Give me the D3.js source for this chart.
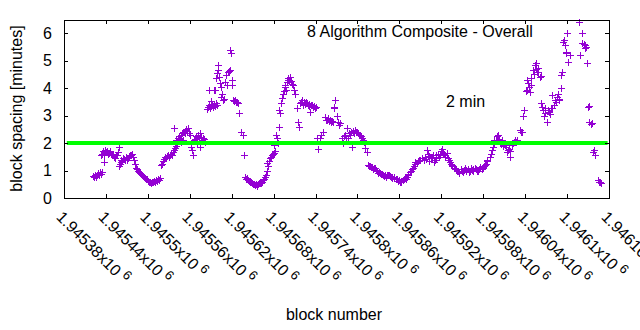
<!DOCTYPE html>
<html>
  <head>
    <meta charset="utf-8" />
    <script src="https://d3js.org/d3.v7.min.js"></script>
    <style>
      body { margin: 0; background: #fff; }
      text { font-family: "Liberation Sans", Arial, sans-serif; fill: #000; }
    </style>
  </head>
  <body>
    <svg width="640" height="330" id="chart"></svg>
    <script>
      // block spacing readings [block number, minutes], grouped by stretch of the curve
      const firstRise = [
        [1945421,0.80],[1945423,0.78],[1945424,0.85],[1945426,0.76],[1945427,0.82],[1945429,0.90],[1945430,0.84],[1945431,0.93],[1945433,0.88],[1945434,0.95],
        [1945433,1.55],[1945434,1.62],[1945436,1.70],[1945437,1.58],[1945439,1.75],[1945440,1.68],[1945441,1.72],[1945443,1.60],[1945444,1.65],[1945446,1.70],
        [1945447,1.62],[1945449,1.55],[1945450,1.60],[1945452,1.50],[1945453,1.45],[1945454,1.55],[1945456,1.58],[1945457,1.68],[1945459,1.85],[1945437,1.30],
        [1945458,1.18],[1945460,1.25],[1945461,1.32],[1945462,1.40],[1945463,1.36],[1945464,1.45],[1945466,1.42],[1945467,1.38],[1945469,1.48],[1945470,1.40],
        [1945472,1.45],[1945473,1.52],[1945474,1.58],[1945476,1.55],[1945477,1.62],[1945479,1.50]
      ];
      const firstDip = [
        [1945480,1.38],[1945482,1.25],[1945483,1.10],[1945484,1.05],[1945486,1.00],[1945487,0.95],[1945489,0.90],[1945490,0.88],[1945492,0.85],[1945493,0.80],
        [1945494,0.78],[1945496,0.74],[1945497,0.70],[1945499,0.68],[1945500,0.62],[1945502,0.60],[1945503,0.58],[1945504,0.55],[1945506,0.60],[1945507,0.57],
        [1945509,0.62],[1945510,0.58],[1945512,0.65],[1945513,0.62],[1945514,0.70],[1945516,0.66],[1945517,0.72],
        [1945519,1.20],[1945520,1.25],[1945522,1.35],[1945523,1.42],[1945524,1.48],[1945526,1.45],[1945527,1.52],[1945529,1.55],[1945530,1.48],[1945532,1.58],
        [1945533,1.62],[1945534,1.55],[1945536,1.68],[1945537,1.75],[1945539,1.82],[1945540,1.88],[1945542,1.95]
      ];
      const firstPeak = [
        [1945538,2.55],[1945541,2.12],[1945543,2.18],[1945544,2.15],[1945545,2.25],[1945546,2.20],[1945547,2.30],[1945549,2.35],[1945550,2.40],[1945552,2.42],
        [1945553,2.38],[1945554,2.50],[1945556,2.45],[1945557,2.55],[1945559,2.35],[1945560,2.30],[1945548,2.05],[1945551,2.10],[1945562,1.85],[1945563,1.75],
        [1945565,1.58],[1945566,2.10],[1945567,2.15],[1945569,2.25],[1945570,2.20],[1945572,2.30],[1945573,2.18],[1945575,2.35],[1945576,2.22],[1945577,2.12],
        [1945579,2.20],[1945580,2.15],[1945582,2.05],[1945571,1.95],[1945574,1.85],
        [1945585,3.25],[1945586,3.32],[1945587,3.40],[1945589,3.28],[1945590,3.35],[1945592,3.42],[1945593,3.30],[1945595,3.38],[1945596,3.36],[1945597,3.45],
        [1945599,3.40],[1945588,3.95],[1945591,3.55],[1945594,3.92],
        [1945596,3.93],[1945598,4.36],[1945599,4.55],[1945600,4.84],[1945601,4.65],[1945602,4.40],[1945603,4.20],[1945605,4.05],[1945606,3.80],[1945604,3.67],
        [1945607,3.56],[1945609,3.62],[1945610,4.22],[1945612,4.47],[1945613,4.10],[1945615,4.58],[1945616,4.62],[1945617,4.65],[1945618,5.38],[1945619,5.27],
        [1945620,4.30],[1945621,4.10],[1945622,3.56],[1945623,3.52],[1945625,3.58],[1945626,3.48],[1945627,3.50],[1945629,3.45],[1945630,3.09],[1945633,2.40],
        [1945636,2.29],[1945637,1.56]
      ];
      const secondDip = [
        [1945639,0.75],[1945640,0.70],[1945642,0.72],[1945643,0.65],[1945645,0.62],[1945646,0.60],[1945647,0.58],[1945649,0.55],[1945650,0.52],[1945652,0.50],
        [1945653,0.48],[1945655,0.50],[1945656,0.45],[1945657,0.52],[1945659,0.55],[1945660,0.58],[1945662,0.55],[1945663,0.60],[1945665,0.65],[1945666,0.70],
        [1945667,0.75],[1945669,0.85],[1945670,1.00],[1945672,1.15],[1945671,1.27],[1945673,1.35],[1945675,1.45],[1945676,1.50],[1945678,1.58],[1945679,1.62],
        [1945680,1.65],[1945682,1.70],[1945681,1.93],[1945683,2.29],[1945685,2.18],[1945686,2.00],[1945687,2.58],[1945688,3.20],[1945689,3.10]
      ];
      const secondPeak = [
        [1945690,3.45],[1945692,3.64],[1945693,3.80],[1945695,3.90],[1945696,4.04],[1945697,4.10],[1945698,3.95],[1945699,4.22],[1945700,4.36],[1945701,4.30],
        [1945702,4.30],[1945703,4.40],[1945705,4.25],[1945706,4.15],[1945708,4.10],[1945709,3.95],[1945710,3.80],
        [1945713,3.27],[1945715,2.76],[1945716,2.58],[1945718,3.45],[1945719,3.50],[1945720,3.56],[1945722,3.40],[1945723,3.48],[1945725,3.42],[1945726,3.50],
        [1945728,3.45],[1945729,3.38],[1945730,3.42],[1945732,3.13],[1945731,3.35],[1945733,3.40],[1945735,3.38],[1945736,3.30],[1945738,3.35],[1945739,3.28],
        [1945740,3.31],[1945742,2.20],[1945743,1.80],[1945746,2.18],[1945748,2.30],[1945750,2.40],[1945753,2.95],[1945755,2.85],[1945756,2.84],[1945758,2.90],
        [1945759,2.80],[1945760,2.84],[1945762,2.78],[1945763,2.82],[1945765,2.76],[1945766,3.27],[1945768,3.56],[1945767,3.31],[1945770,3.00],[1945772,2.76],
        [1945773,2.65],[1945775,2.73],[1945778,2.18],[1945779,2.00],[1945781,2.25],[1945782,2.30],[1945783,2.20],[1945785,2.55],[1945786,2.20],[1945788,2.35],
        [1945789,2.29],[1945791,2.40],[1945792,1.85],[1945793,2.45],[1945795,2.35],[1945796,2.47],[1945798,2.42],[1945799,2.40],[1945801,2.35],[1945802,2.30],
        [1945803,2.29],[1945805,2.25],[1945806,2.18],[1945808,2.10],[1945809,2.05],[1945811,1.82],[1945813,1.67]
      ];
      const thirdDip = [
        [1945815,1.20],[1945816,1.18],[1945818,1.15],[1945819,1.12],[1945821,1.13],[1945822,1.05],[1945823,1.10],[1945825,1.09],[1945826,1.02],[1945828,1.00],
        [1945829,0.91],[1945831,0.95],[1945832,0.90],[1945833,0.88],[1945835,0.86],[1945836,0.84],[1945838,0.80],[1945839,0.85],[1945841,0.78],[1945842,0.82],
        [1945843,0.84],[1945845,0.82],[1945846,0.80],[1945848,0.76],[1945849,0.78],[1945850,0.72],[1945852,0.75],[1945853,0.72],[1945855,0.70],[1945856,0.68],
        [1945858,0.62],[1945859,0.65],[1945861,0.60],[1945862,0.62],[1945863,0.58],[1945865,0.65],[1945866,0.68],[1945868,0.72],[1945869,0.70],[1945871,0.78],
        [1945872,0.82],[1945873,0.88],[1945875,0.95],[1945876,0.98],[1945878,1.05],[1945879,1.10],[1945881,1.15],[1945882,1.25],[1945883,1.30],[1945885,1.28],
        [1945886,1.35],[1945888,1.40],[1945889,1.38]
      ];
      const thirdBump = [
        [1945893,1.45],[1945895,1.38],[1945896,1.50],[1945898,1.42],[1945899,1.75],[1945901,1.60],[1945902,1.35],[1945903,1.52],[1945905,1.45],[1945906,1.48],
        [1945908,1.55],[1945909,1.30],[1945911,1.40],[1945912,1.58],[1945913,1.45],[1945915,1.62],[1945916,1.48],[1945918,1.55],[1945919,1.70],[1945921,1.80],
        [1945922,1.65],[1945924,1.60],[1945925,1.50],[1945926,1.55],[1945928,1.65],[1945929,1.45],[1945931,1.40],[1945932,1.30],[1945934,1.25],
        [1945935,1.20],[1945936,1.15],[1945938,1.10],[1945939,1.08],[1945941,1.05],[1945942,1.00],[1945944,0.98],[1945945,0.92],[1945946,0.95],[1945948,1.05],
        [1945949,1.00],[1945951,0.95],[1945952,1.02],[1945954,1.08],[1945955,0.98],[1945956,1.02],[1945958,1.05],[1945959,0.95],[1945961,1.00],[1945962,1.08],
        [1945964,1.02],[1945965,1.05],[1945966,0.98],[1945968,1.10],[1945969,1.05],[1945971,0.98],[1945972,1.00],[1945974,1.05],[1945975,1.08],[1945976,1.12],
        [1945978,1.05],[1945979,1.10],[1945981,1.15],[1945982,1.20],[1945984,1.25],[1945985,1.35],[1945986,1.40],[1945989,1.50],[1945991,1.60],[1945992,1.75],
        [1945994,1.85],[1945995,2.00],[1945998,2.10],[1945999,2.25]
      ];
      const finalRise = [
        [1945996,2.10],[1946001,2.29],[1946002,2.15],[1946004,2.05],[1946005,1.95],[1946007,2.10],[1946008,2.00],[1946009,1.90],[1946011,1.93],[1946012,1.85],
        [1946014,1.67],[1946015,1.75],[1946017,1.80],[1946018,1.50],[1946019,1.70],[1946021,1.93],[1946022,2.00],[1946024,2.05],[1946025,2.10],[1946027,2.05],
        [1946028,2.12],[1946029,2.10],[1946032,2.47],[1946034,2.40],[1946035,2.42],
        [1946037,3.00],[1946039,3.20],[1946041,3.90],[1946042,4.30],[1946044,4.18],[1946043,3.93],[1946045,4.05],[1946047,3.86],[1946048,4.10],[1946049,4.36],
        [1946051,4.65],[1946052,4.50],[1946054,4.84],[1946055,4.70],[1946057,4.58],[1946058,4.73],[1946059,4.60],[1946061,4.40],[1946062,4.45],[1946056,4.90],
        [1946063,3.45],[1946064,3.31],[1946065,3.20],[1946067,3.00],[1946068,3.27],[1946069,3.10],[1946071,2.76],[1946072,3.20],[1946074,3.13],[1946075,3.05],
        [1946077,3.27],[1946078,3.75],[1946079,3.27],[1946081,3.40],[1946082,3.56],[1946084,3.50],[1946085,3.67],[1946087,3.80],[1946088,3.60],[1946089,3.56],
        [1946091,4.00],[1946092,4.47],[1946093,4.58],
        [1946094,5.67],[1946096,5.75],[1946097,5.56],[1946098,5.31],[1946099,5.27],[1946100,6.00],[1946101,4.95],[1946104,5.20],[1946117,6.40],[1946118,5.20],
        [1946121,6.00],[1946122,5.64],[1946124,5.60],[1946125,5.56],[1946126,5.45],[1946127,5.50],[1946128,4.90],
        [1946130,3.31],[1946131,3.35],[1946132,2.76],[1946134,2.70],[1946135,2.73],[1946137,1.67],[1946138,1.75],[1946140,1.56],[1946144,0.65],[1946145,0.60],
        [1946147,0.58],[1946148,0.55]
      ];

      const targetMinutes = 2;
      const targetFrom = 1945384;
      const targetTo = 1946158;

      const xTicks = [1945380, 1945440, 1945500, 1945560, 1945620, 1945680, 1945740,
                      1945800, 1945860, 1945920, 1945980, 1946040, 1946100, 1946160];
      const yTicks = [0, 1, 2, 3, 4, 5, 6];

      const titleText = "8 Algorithm Composite - Overall";
      const noteText = "2 min";
      const xLabel = "block number";
      const yLabel = "block spacing [minutes]";

      const points = [].concat(firstRise, firstDip, firstPeak, secondDip,
                               secondPeak, thirdDip, thirdBump, finalRise);

      const svg = d3.select("svg#chart");
      const plotLeft = 64, plotRight = 609, plotTop = 19.5, plotBottom = 198;

      const xScale = d3.scaleLinear().domain([1945380, 1946160]).range([plotLeft, plotRight]);
      const yScale = d3.scaleLinear().domain([0, 6.5]).range([plotBottom, plotTop]);

      const fmtBlock = (v) => Number((v / 1e6).toFixed(5)).toString() + "x10";

      // points (gnuplot style "+")
      const s = 3.5;
      svg.append("g")
        .attr("stroke", "#9400d3")
        .attr("stroke-width", 1)
        .attr("fill", "none")
        .attr("shape-rendering", "crispEdges")
        .selectAll("path")
        .data(points)
        .join("path")
        .attr("d", (d) => {
          const cx = Math.round(xScale(d[0])) + 0.5;
          const cy = Math.round(yScale(d[1])) + 0.5;
          return `M${cx - s},${cy}H${cx + s}M${cx},${cy - s}V${cy + s}`;
        });

      // 2 minute target line
      svg.append("line")
        .attr("x1", xScale(targetFrom))
        .attr("x2", xScale(targetTo))
        .attr("y1", yScale(targetMinutes))
        .attr("y2", yScale(targetMinutes))
        .attr("stroke", "#00ff00")
        .attr("stroke-width", 4);

      // axes, ticks pointing inwards on all sides
      const axisBottom = d3.axisBottom(xScale).tickValues(xTicks)
        .tickSizeInner(-4).tickSizeOuter(0).tickFormat(fmtBlock);
      const gx = svg.append("g")
        .attr("transform", `translate(0, ${plotBottom})`)
        .call(axisBottom);
      gx.selectAll("text")
        .attr("x", 0).attr("y", 0).attr("dy", null)
        .attr("text-anchor", "start")
        .attr("transform", "translate(-9, 20) rotate(45)")
        .append("tspan")
        .attr("font-size", 13)
        .attr("dx", 4)
        .attr("dy", -6)
        .text("6");

      svg.append("g")
        .attr("transform", `translate(0, ${plotTop})`)
        .call(d3.axisTop(xScale).tickValues(xTicks).tickSizeInner(-4).tickSizeOuter(0).tickFormat(""));

      svg.append("g")
        .attr("transform", `translate(${plotLeft}, 0)`)
        .call(d3.axisLeft(yScale).tickValues(yTicks).tickSizeInner(-4).tickSizeOuter(0)
          .tickPadding(12).tickFormat(d3.format("d")));

      svg.append("g")
        .attr("transform", `translate(${plotRight}, 0)`)
        .call(d3.axisRight(yScale).tickValues(yTicks).tickSizeInner(-4).tickSizeOuter(0).tickFormat(""));

      svg.selectAll(".domain, .tick line").attr("stroke", "#000").attr("shape-rendering", "crispEdges");
      svg.selectAll(".tick text")
        .attr("font-family", '"Liberation Sans", Arial, sans-serif')
        .attr("font-size", 16)
        .attr("fill", "#000");

      // titles and labels
      svg.append("text").attr("x", 307).attr("y", 37).attr("font-size", 16).text(titleText);
      svg.append("text").attr("x", 446).attr("y", 107).attr("font-size", 16).text(noteText);
      svg.append("text").attr("x", 334).attr("y", 320).attr("font-size", 16)
        .attr("text-anchor", "middle").text(xLabel);
      svg.append("text")
        .attr("transform", "translate(21.5, 108.5) rotate(-90)")
        .attr("font-size", 16)
        .attr("text-anchor", "middle")
        .text(yLabel);
    </script>
  </body>
</html>
